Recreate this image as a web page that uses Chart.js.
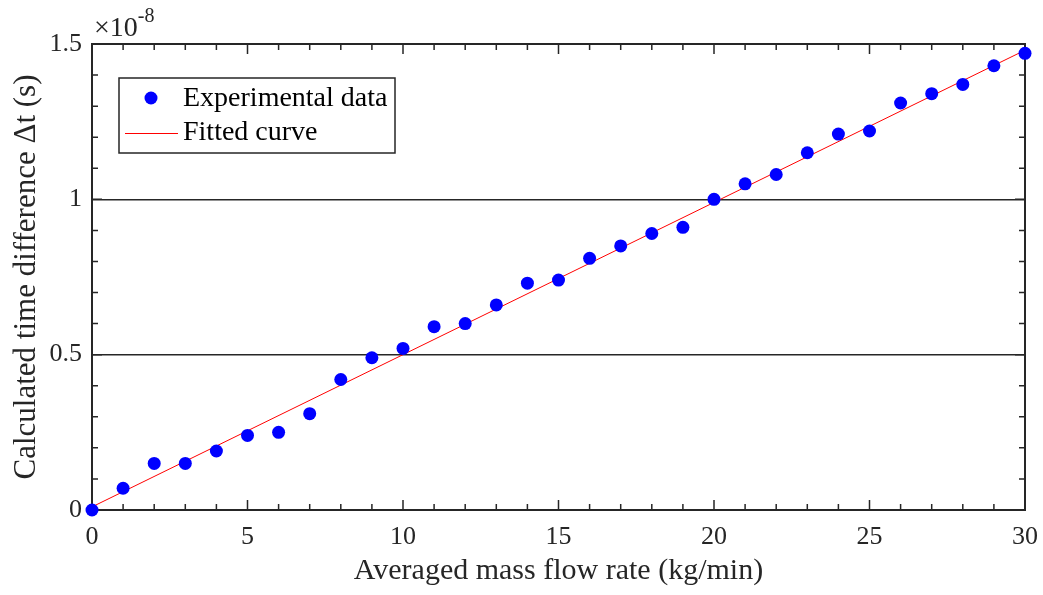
<!DOCTYPE html>
<html>
<head>
<meta charset="utf-8">
<script src="https://cdn.jsdelivr.net/npm/chart.js@4"></script>
<style>
  body { margin: 0; background: #fff; }
</style>
</head>
<body>
<canvas id="chart" width="1043" height="595"></canvas>
<script>
// mass flow rate (kg/min) and calculated time difference (x 1e-8 s)
const flowRate = [0, 1, 2, 3, 4, 5, 6, 7, 8, 9, 10, 11, 12, 13, 14, 15,
  16, 17, 18, 19, 20, 21, 22, 23, 24, 25, 26, 27, 28, 29, 30];
const deltaT = [0, 0.07, 0.15, 0.15, 0.19, 0.24, 0.25, 0.31, 0.42, 0.49, 0.52, 0.59, 0.60, 0.66, 0.73, 0.74,
  0.81, 0.85, 0.89, 0.91, 1.00, 1.05, 1.08, 1.15, 1.21, 1.22, 1.31, 1.34, 1.37, 1.43, 1.47];

// fitted line end points
const fitX = [0, 30];
const fitY = [0.01, 1.48];

const xTicks = [0, 5, 10, 15, 20, 25, 30];
const yTicks = [0, 0.5, 1, 1.5];

const FONT = "'Liberation Serif', serif";

// box + inward ticks on all four sides, like the matlab axes
const boxPlugin = {
  id: 'box',
  beforeDatasetsDraw(chart) {
    const { ctx, chartArea: a, scales } = chart;
    ctx.save();
    ctx.strokeStyle = '#262626';
    ctx.lineWidth = 1.5;
    ctx.beginPath();
    for (let v = 0; v <= 30; v++) {
      const px = scales.x.getPixelForValue(v);
      const len = v % 5 === 0 ? 10 : 6;
      ctx.moveTo(px, a.bottom); ctx.lineTo(px, a.bottom - len);
      ctx.moveTo(px, a.top); ctx.lineTo(px, a.top + len);
    }
    for (let i = 0; i <= 15; i++) {
      const py = scales.y.getPixelForValue(i / 10);
      const len = i % 5 === 0 ? 10 : 6;
      ctx.moveTo(a.left, py); ctx.lineTo(a.left + len, py);
      ctx.moveTo(a.right, py); ctx.lineTo(a.right - len, py);
    }
    ctx.stroke();
    ctx.lineWidth = 2;
    ctx.strokeRect(a.left, a.top, a.right - a.left, a.bottom - a.top);

    // exponent label above the y axis
    ctx.fillStyle = '#262626';
    ctx.textBaseline = 'alphabetic';
    ctx.font = '28px ' + FONT;
    ctx.fillText('\u00d710', a.left + 2, 36);
    const w = ctx.measureText('\u00d710').width;
    ctx.font = '20px ' + FONT;
    ctx.fillText('-8', a.left + 2 + w, 22);
    ctx.restore();
  },
  afterDraw(chart) {
    const { ctx, chartArea: a } = chart;
    const ds = chart.data.datasets;
    const bx = a.left + 27, by = a.top + 34, bw = 276, bh = 75;
    ctx.save();
    ctx.fillStyle = '#fff';
    ctx.fillRect(bx, by, bw, bh);
    ctx.strokeStyle = '#262626';
    ctx.lineWidth = 1.5;
    ctx.strokeRect(bx, by, bw, bh);
    // experimental data marker
    ctx.fillStyle = ds[1].backgroundColor;
    ctx.beginPath();
    ctx.arc(bx + 32, by + 20, 6.5, 0, Math.PI * 2);
    ctx.fill();
    // fitted curve marker
    ctx.strokeStyle = ds[0].borderColor;
    ctx.lineWidth = 1;
    ctx.beginPath();
    ctx.moveTo(bx + 6, by + 55.5);
    ctx.lineTo(bx + 59, by + 55.5);
    ctx.stroke();
    ctx.fillStyle = '#000';
    ctx.font = '28px ' + FONT;
    ctx.textBaseline = 'middle';
    ctx.fillText(ds[1].label, bx + 64, by + 21);
    ctx.fillText(ds[0].label, bx + 64, by + 55);
    ctx.restore();
  }
};

new Chart(document.getElementById('chart'), {
  type: 'scatter',
  data: {
    datasets: [
      {
        label: 'Fitted curve',
        data: fitX.map((x, i) => ({ x: x, y: fitY[i] })),
        showLine: true,
        borderColor: '#ff0000',
        borderWidth: 1,
        pointRadius: 0,
        order: 2
      },
      {
        label: 'Experimental data',
        data: flowRate.map((x, i) => ({ x: x, y: deltaT[i] })),
        backgroundColor: '#0000ff',
        borderColor: '#0000ff',
        pointRadius: 6.5,
        borderWidth: 0,
        clip: false,
        order: 1
      }
    ]
  },
  options: {
    responsive: false,
    animation: false,
    layout: { padding: { top: 44, right: 18, left: 0, bottom: 0 } },
    plugins: { legend: { display: false }, tooltip: { enabled: false } },
    scales: {
      x: {
        type: 'linear', min: 0, max: 30,
        afterBuildTicks: s => { s.ticks = xTicks.map(v => ({ value: v })); },
        afterFit: s => { s.height = 85; s.paddingLeft = 0; s.paddingRight = 0; },
        grid: { display: false, drawTicks: false },
        border: { display: false },
        ticks: { color: '#262626', font: { family: FONT, size: 26 }, padding: 12, maxRotation: 0 },
        title: { display: true, text: 'Averaged mass flow rate (kg/min)', color: '#262626',
          font: { family: FONT, size: 30 }, padding: { top: 0, bottom: 6 } }
      },
      y: {
        type: 'linear', min: 0, max: 1.5,
        afterBuildTicks: s => { s.ticks = yTicks.map(v => ({ value: v })); },
        afterFit: s => { s.width = 92; s.paddingTop = 0; s.paddingBottom = 0; },
        grid: {
          drawTicks: false,
          lineWidth: 1.5,
          color: c => (c.tick && (c.tick.value === 0.5 || c.tick.value === 1)) ? '#262626' : 'rgba(0,0,0,0)'
        },
        border: { display: false },
        ticks: { color: '#262626', font: { family: FONT, size: 26 }, padding: 10,
          callback: v => String(v) },
        title: { display: true, text: 'Calculated time difference \u0394t (s)', color: '#262626',
          font: { family: FONT, size: 31 }, padding: { top: 8, bottom: 0 } }
      }
    }
  },
  plugins: [boxPlugin]
});
</script>
</body>
</html>
